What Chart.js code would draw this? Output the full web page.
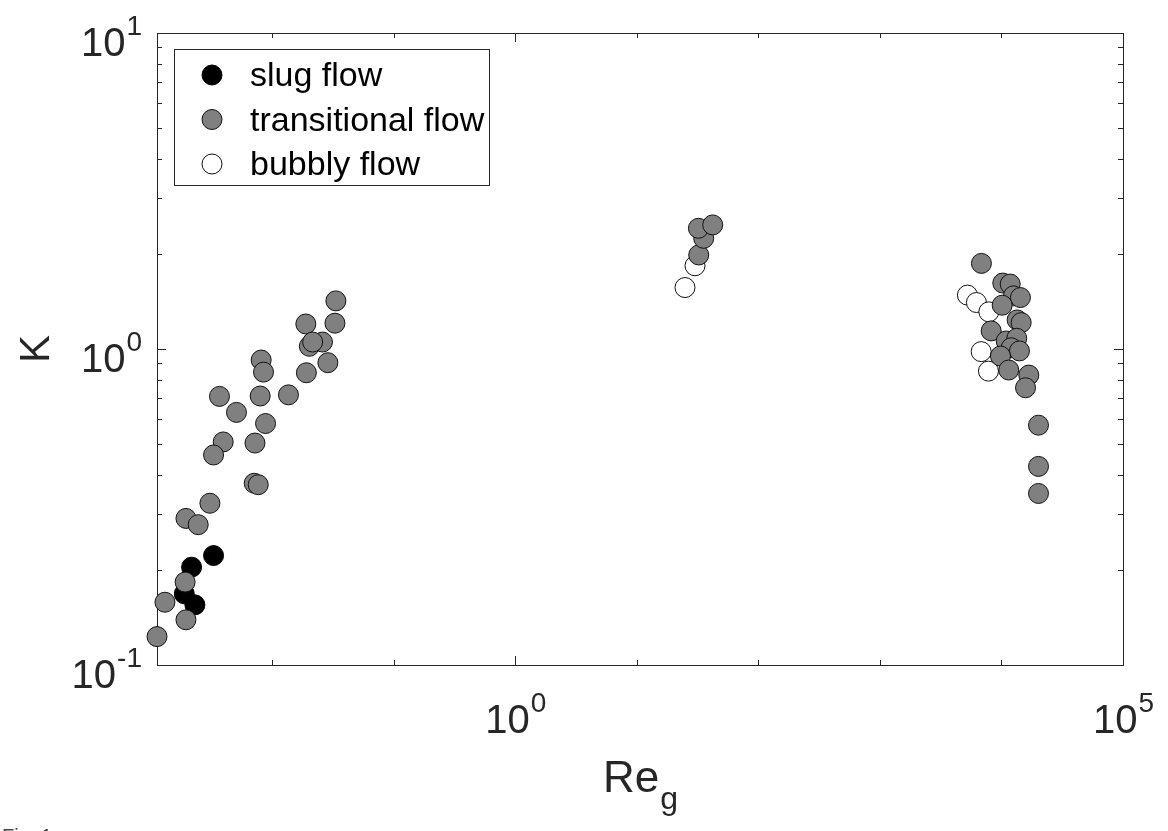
<!DOCTYPE html>
<html>
<head>
<meta charset="utf-8">
<script src="https://cdn.jsdelivr.net/npm/chart.js@4.4.1/dist/chart.umd.min.js"></script>
<style>
  html, body { margin: 0; padding: 0; background: #fff; }
  #wrap { position: relative; width: 1168px; height: 831px; }
</style>
</head>
<body>
<div id="wrap"><canvas id="Chart" width="1168" height="831"></canvas></div>
<script>
// values (Re_g, K)
const slugRe = [0.00329, 0.00217, 0.00189, 0.00231];
const slugK  = [0.222, 0.204, 0.168, 0.155];

const transRe = [
  // low Re cluster
  0.0334, 0.0328, 0.0189, 0.0259, 0.0202, 0.0215, 0.0287, 0.0191, 0.0136,
  0.00811, 0.00848, 0.00796, 0.00368, 0.00508, 0.00881, 0.00395, 0.00721,
  0.00329, 0.00711, 0.00767, 0.00307, 0.00195, 0.00246, 0.00192, 0.00131,
  0.00195, 0.001127,
  // middle
  32.3, 35.5, 32.1, 42.1,
  // high Re cluster
  6843, 10256, 11803, 12557, 14324, 10138, 13459, 14528, 8228, 10937,
  13366, 12023, 14060, 9816, 11482, 16788, 15770, 20170, 20170, 20170
];
const transK = [
  1.42, 1.207, 1.20, 1.052, 1.02, 1.052, 0.905, 0.841, 0.716,
  0.923, 0.845, 0.710, 0.708, 0.63, 0.581, 0.508, 0.504,
  0.462, 0.376, 0.372, 0.325, 0.291, 0.278, 0.183, 0.158,
  0.139, 0.123,
  1.984, 2.24, 2.41, 2.47,
  1.866, 1.617, 1.605, 1.473, 1.455, 1.376, 1.236, 1.212, 1.141, 1.060,
  1.081, 1.009, 0.986, 0.950, 0.858, 0.827, 0.754, 0.574, 0.425, 0.349
];

const bubblyRe = [24.9, 30.1, 5248, 6223, 7870, 6808, 7816];
const bubblyK  = [1.565, 1.834, 1.481, 1.403, 1.311, 0.981, 0.851];

const seriesNames = ['slug flow', 'transitional flow', 'bubbly flow'];

const xMin = 0.001127, xMax = 1e5;
const yMin = 0.1, yMax = 10;
const xLabelExps = [0, 5];       // labelled x ticks (10^n)
const xTickExps = [-2, -1, 0, 1, 2, 3, 4, 5];
const yLabelExps = [-1, 0, 1];

const toPoints = (xs, ys) => xs.map((x, i) => ({x: x, y: ys[i]}));

const axisColor = '#262626';
const FONT = 'Arial, "Liberation Sans", Helvetica, sans-serif';

// draws "10" with a raised exponent
function drawPow(ctx, exp, x, y, mode) {
  const baseFont = '40px ' + FONT, expFont = '28px ' + FONT;
  ctx.font = baseFont;
  const wb = ctx.measureText('10').width;
  ctx.font = expFont;
  const we = ctx.measureText(String(exp)).width;
  let x0;
  if (mode === 'center') x0 = x - (wb + we) / 2;
  else x0 = x - wb - we;   // right aligned
  ctx.fillStyle = axisColor;
  ctx.textAlign = 'left';
  ctx.textBaseline = 'alphabetic';
  ctx.font = baseFont;
  ctx.fillText('10', x0, y);
  ctx.font = expFont;
  ctx.fillText(String(exp), x0 + wb + 1, y - 21);
}

const axesPlugin = {
  id: 'matlabAxes',
  beforeDatasetsDraw(chart) {
    const ctx = chart.ctx;
    const a = chart.chartArea;
    const xs = chart.scales.x, ys = chart.scales.y;
    ctx.save();
    ctx.strokeStyle = axisColor;
    ctx.lineWidth = 1;
    ctx.strokeRect(Math.round(a.left) + 0.5, Math.round(a.top) + 0.5,
      Math.round(a.right - a.left), Math.round(a.bottom - a.top));

    ctx.beginPath();
    // x ticks (inward, bottom and top)
    xTickExps.forEach(e => {
      const px = Math.round(xs.getPixelForValue(Math.pow(10, e))) + 0.5;
      const len = xLabelExps.includes(e) ? 9 : 5;
      ctx.moveTo(px, a.bottom); ctx.lineTo(px, a.bottom - len);
      ctx.moveTo(px, a.top); ctx.lineTo(px, a.top + len);
    });
    // y ticks: decades long, 2..9 short
    for (let e = -1; e <= 1; e++) {
      for (let m = 1; m <= 9; m++) {
        const v = m * Math.pow(10, e);
        if (v < yMin || v > yMax) continue;
        const py = Math.round(ys.getPixelForValue(v)) + 0.5;
        const len = m === 1 ? 9 : 5;
        ctx.moveTo(a.left, py); ctx.lineTo(a.left + len, py);
        ctx.moveTo(a.right, py); ctx.lineTo(a.right - len, py);
      }
    }
    ctx.stroke();

    // tick labels
    xLabelExps.forEach(e => {
      drawPow(ctx, e, xs.getPixelForValue(Math.pow(10, e)), a.bottom + 68, 'center');
    });
    yLabelExps.forEach(e => {
      drawPow(ctx, e, a.left - 16, ys.getPixelForValue(Math.pow(10, e)) + 23, 'right');
    });

    // axis titles
    ctx.fillStyle = axisColor;
    ctx.textBaseline = 'alphabetic';
    const cx = (a.left + a.right) / 2;
    ctx.font = '44px ' + FONT;
    const wRe = ctx.measureText('Re').width;
    ctx.font = '32px ' + FONT;
    const wg = ctx.measureText('g').width;
    ctx.textAlign = 'left';
    ctx.font = '44px ' + FONT;
    ctx.fillText('Re', cx - (wRe + wg) / 2, a.bottom + 127);
    ctx.font = '32px ' + FONT;
    ctx.fillText('g', cx - (wRe + wg) / 2 + wRe + 1, a.bottom + 144);

    ctx.save();
    ctx.translate(49, (a.top + a.bottom) / 2);
    ctx.rotate(-Math.PI / 2);
    ctx.font = '42px ' + FONT;
    ctx.textAlign = 'center';
    ctx.fillText('K', 0, 0);
    ctx.restore();

    ctx.font = '20px ' + FONT;
    ctx.textAlign = 'left';
    ctx.textBaseline = 'top';
    ctx.fillStyle = '#444';
    ctx.fillText('Fig. 1', 2, 827);
    ctx.restore();
  },
  afterDatasetsDraw(chart) {
    // legend box inside the axes, top left
    const ctx = chart.ctx;
    const a = chart.chartArea;
    const bx = Math.round(a.left) + 17, by = Math.round(a.top) + 16;
    ctx.save();
    ctx.fillStyle = '#fff';
    ctx.fillRect(bx, by, 315, 136);
    ctx.strokeStyle = axisColor;
    ctx.lineWidth = 1;
    ctx.strokeRect(bx + 0.5, by + 0.5, 315, 136);
    chart.data.datasets.forEach((ds, i) => {
      const my = by + 26 + i * 44.5;
      ctx.beginPath();
      ctx.arc(bx + 38, my, 10, 0, Math.PI * 2);
      ctx.fillStyle = ds.backgroundColor;
      ctx.fill();
      ctx.lineWidth = 1;
      ctx.strokeStyle = ds.borderColor;
      ctx.stroke();
      ctx.fillStyle = '#000';
      ctx.font = '34px ' + FONT;
      ctx.textAlign = 'left';
      ctx.textBaseline = 'alphabetic';
      ctx.fillText(ds.label, bx + 76, my + 11);
    });
    ctx.restore();
  }
};

const ctx = document.getElementById('Chart').getContext('2d');
const myChart = new Chart(ctx, {
  type: 'scatter',
  data: {
    datasets: [
      {
        label: seriesNames[0],
        data: toPoints(slugRe, slugK),
        backgroundColor: '#000000',
        borderColor: '#000000',
        order: 2
      },
      {
        label: seriesNames[1],
        data: toPoints(transRe, transK),
        backgroundColor: '#808080',
        borderColor: '#111111',
        order: 0
      },
      {
        label: seriesNames[2],
        data: toPoints(bubblyRe, bubblyK),
        backgroundColor: '#ffffff',
        borderColor: '#111111',
        order: 1
      }
    ]
  },
  options: {
    responsive: false,
    animation: false,
    devicePixelRatio: 1,
    events: [],
    layout: { padding: { left: 157, top: 33, right: 45, bottom: 166 } },
    elements: {
      point: { radius: 10, borderWidth: 1, hoverRadius: 10 }
    },
    datasets: { scatter: { clip: false } },
    scales: {
      x: { type: 'logarithmic', min: xMin, max: xMax, display: false },
      y: { type: 'logarithmic', min: yMin, max: yMax, display: false }
    },
    plugins: {
      legend: { display: false },
      tooltip: { enabled: false }
    }
  },
  plugins: [axesPlugin]
});
</script>
</body>
</html>
